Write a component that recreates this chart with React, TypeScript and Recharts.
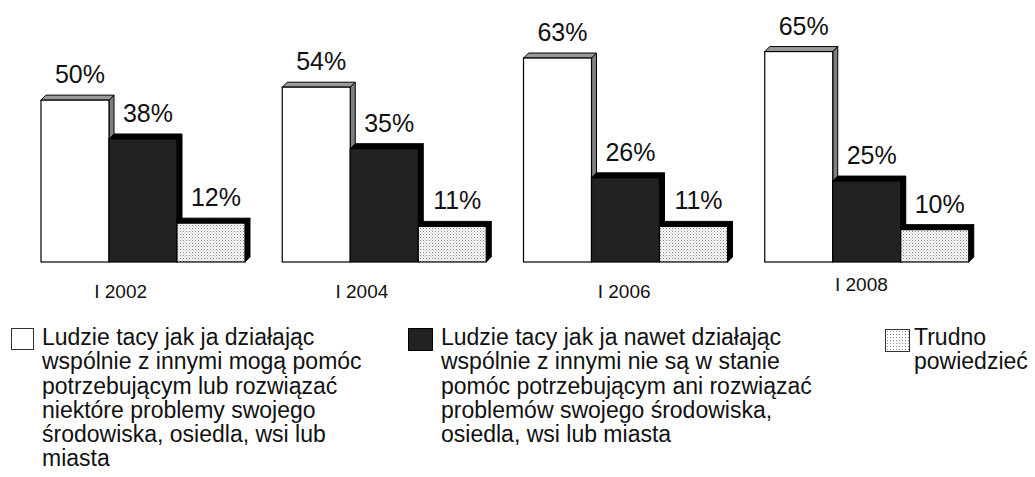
import React from "react";
import { Bar, BarChart, LabelList, XAxis, YAxis } from "recharts";

const categories = ["I 2002", "I 2004", "I 2006", "I 2008"];
const canHelp = [50, 54, 63, 65];
const cannotHelp = [38, 35, 26, 25];
const hardToSay = [12, 11, 11, 10];

const seriesNames = [
  "Ludzie tacy jak ja działając wspólnie z innymi mogą pomóc potrzebującym lub rozwiązać niektóre problemy swojego środowiska, osiedla, wsi lub miasta",
  "Ludzie tacy jak ja nawet działając wspólnie z innymi nie są w stanie pomóc potrzebującym ani rozwiązać problemów swojego środowiska, osiedla, wsi lub miasta",
  "Trudno powiedzieć",
];

const chartData = categories.map((cat, i) => ({
  cat,
  canHelp: canHelp[i],
  cannotHelp: cannotHelp[i],
  hardToSay: hardToSay[i],
}));

// the source has the year labels nudged a bit, not centred under the groups
const tickNudge = [
  { dx: -23, dy: 0 },
  { dx: -23, dy: 0 },
  { dx: -2, dy: 0 },
  { dx: -6, dy: -7 },
];

const DEPTH = 5;

function make3dBar(topFill: string, sideFill: string) {
  return function Bar3d(props: any) {
    const { x, y, width, height, fill } = props;
    if (width == null || height == null) return null;
    const d = DEPTH;
    return (
      <g>
        <polygon
          points={`${x + width},${y} ${x + width + d},${y - d} ${x + width + d},${y + height - d} ${x + width},${y + height}`}
          fill={sideFill}
          stroke="#000"
          strokeWidth={1}
        />
        <polygon
          points={`${x},${y} ${x + d},${y - d} ${x + width + d},${y - d} ${x + width},${y}`}
          fill={topFill}
          stroke="#000"
          strokeWidth={1}
        />
        <rect x={x} y={y} width={width} height={height} fill={fill} stroke="#000" strokeWidth={1.2} />
      </g>
    );
  };
}

const WhiteBar = make3dBar("#999999", "#7f7f7f");
const DarkBar = make3dBar("#000000", "#000000");
const DottedBar = make3dBar("#000000", "#000000");

function PctLabel(props: any) {
  const { x, y, width, value } = props;
  return (
    <text
      x={x + width / 2 + 5}
      y={y - 17}
      textAnchor="middle"
      fontSize={25}
      fontFamily="'Liberation Sans', Arial, sans-serif"
      fill="#111"
    >
      {value}%
    </text>
  );
}

function YearTick(props: any) {
  const { x, y, payload, index } = props;
  const n = tickNudge[index] || { dx: 0, dy: 0 };
  return (
    <text
      x={x + n.dx}
      y={y + 28 + n.dy}
      textAnchor="middle"
      fontSize={19}
      fontFamily="'Liberation Sans', Arial, sans-serif"
      fill="#111"
    >
      {payload.value}
    </text>
  );
}

const legendLines = [
  [
    "Ludzie tacy jak ja działając",
    "wspólnie z innymi mogą pomóc",
    "potrzebującym lub rozwiązać",
    "niektóre problemy swojego",
    "środowiska, osiedla, wsi lub",
    "miasta",
  ],
  [
    "Ludzie tacy jak ja nawet działając",
    "wspólnie z innymi nie są w stanie",
    "pomóc potrzebującym ani rozwiązać",
    "problemów swojego środowiska,",
    "osiedla, wsi lub miasta",
  ],
  ["Trudno", "powiedzieć"],
];

export default function App() {
  const font = "'Liberation Sans', Arial, sans-serif";
  const swatches = [
    { left: 11, top: 328, box: { width: 21, height: 20, background: "#fff", border: "1px solid #333" }, textLeft: 42 },
    { left: 408, top: 328, box: { width: 23, height: 21, background: "#222", border: "1px solid #000" }, textLeft: 441 },
    { left: 885, top: 329, box: { width: 23, height: 21, background: "#fff", border: "1px solid #333" }, textLeft: 914 },
  ];

  return (
    <div
      style={{
        position: "fixed",
        left: 0,
        top: 0,
        width: 1035,
        height: 477,
        background: "#fff",
        overflow: "hidden",
        fontFamily: font,
      }}
    >
      <svg width={0} height={0} style={{ position: "absolute" }}>
        <defs>
          <pattern id="dots" width={3} height={3} patternUnits="userSpaceOnUse">
            <rect width={3} height={3} fill="#fafafa" />
            <rect x={0} y={0} width={1} height={1} fill="#8a8a8a" />
            <rect x={1.5} y={1.5} width={1} height={1} fill="#b0b0b0" />
          </pattern>
        </defs>
      </svg>

      <BarChart
        width={1035}
        height={310}
        data={chartData}
        margin={{ top: 3, right: 47, left: 23, bottom: 8 }}
        barCategoryGap={18}
        barGap={0}
      >
        <XAxis dataKey="cat" axisLine={false} tickLine={false} height={40} tick={<YearTick />} interval={0} />
        <YAxis hide domain={[0, 80]} />
        <Bar dataKey="canHelp" fill="#ffffff" shape={<WhiteBar />} isAnimationActive={false}>
          <LabelList dataKey="canHelp" content={<PctLabel />} />
        </Bar>
        <Bar dataKey="cannotHelp" fill="#222222" shape={<DarkBar />} isAnimationActive={false}>
          <LabelList dataKey="cannotHelp" content={<PctLabel />} />
        </Bar>
        <Bar dataKey="hardToSay" fill="url(#dots)" shape={<DottedBar />} isAnimationActive={false}>
          <LabelList dataKey="hardToSay" content={<PctLabel />} />
        </Bar>
      </BarChart>

      {swatches.map((s, i) => (
        <div key={seriesNames[i]}>
          <div
            style={{
              position: "absolute",
              left: s.left,
              top: s.top,
              ...s.box,
              ...(i === 2
                ? {
                    backgroundImage:
                      "radial-gradient(#8a8a8a 0.6px, transparent 0.7px)",
                    backgroundSize: "3px 3px",
                  }
                : {}),
            }}
            title={seriesNames[i]}
          />
          <div
            style={{
              position: "absolute",
              left: s.textLeft,
              top: 325,
              fontSize: 23,
              lineHeight: "24.3px",
              color: "#111",
              whiteSpace: "nowrap",
            }}
          >
            {legendLines[i].map((line) => (
              <div key={line}>{line}</div>
            ))}
          </div>
        </div>
      ))}
    </div>
  );
}
